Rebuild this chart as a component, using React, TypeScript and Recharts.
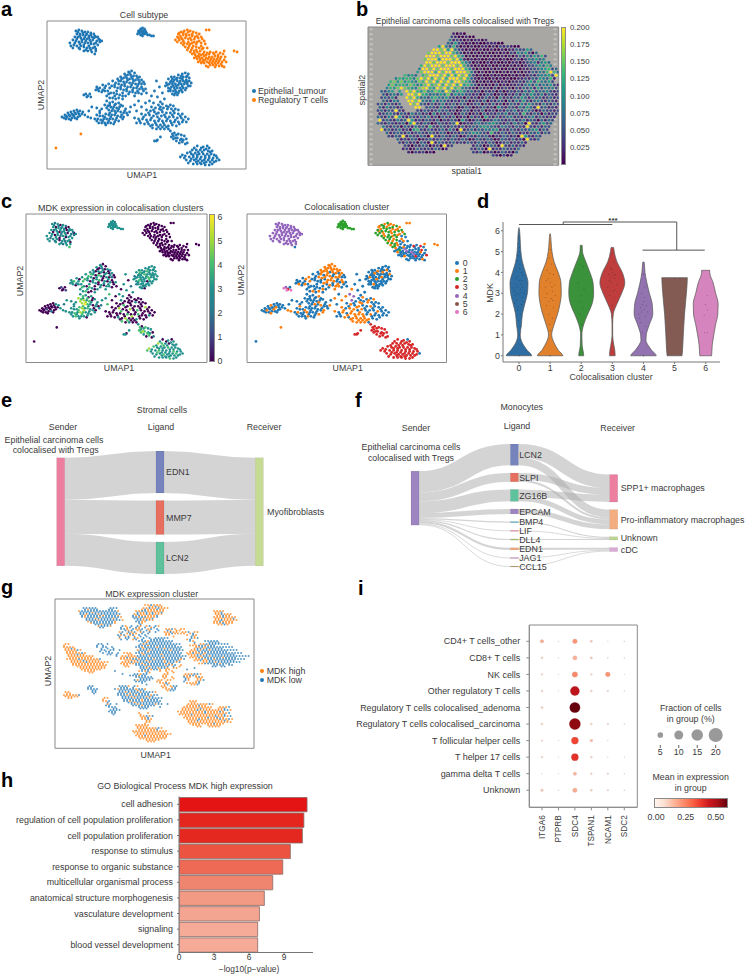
import React from "react";
import {
  Area,
  Bar,
  BarChart,
  Cell,
  ComposedChart,
  ReferenceArea,
  ReferenceLine,
  Sankey,
  Scatter,
  ScatterChart,
  XAxis,
  YAxis,
} from "recharts";

const FONT = '"Liberation Sans", Arial, sans-serif';
const INK = "#3a3a3a";
const FRAME = "#8a8a8a";

const TAB = ["#1f77b4", "#ff7f0e", "#2ca02c", "#d62728", "#9467bd", "#8c564b", "#e377c2"];
const MUTED = ["#2e6ea3", "#e1812c", "#3a923a", "#c03d3e", "#9372b2", "#845b53", "#d684bd"];
const MDK_COLORS = ["#440154", "#414487", "#2a788e", "#21918c", "#44bf70", "#a5db36", "#fde725"];
const SPOT_COLORS = ["#440154", "#482878", "#3e4989", "#31688e", "#26828e", "#1f9e89", "#35b779", "#6ece58", "#b5de2b", "#fde725"];
const REDS = ["#fff5f0", "#fee0d2", "#fcbba1", "#fc9272", "#fb6a4a", "#ef3b2c", "#cb181d", "#a50f15", "#67000d"];

// umap cells: [x, y, colocalisation cluster, MDK level]
const blobTopLeft = [[29,10,4,3],[32,9,4,2],[35,10,4,3],[38,11,4,0],[41,11,4,3],[44,12,4,2],[47,13,4,0],[30,13,4,3],[33,13,4,0],[36,14,4,3],[39,14,4,2],[42,15,4,3],[45,16,4,0],[49,16,4,3],[52,18,4,2],[55,20,4,3],[28,16,4,3],[31,16,4,2],[34,17,4,3],[37,18,4,0],[40,18,4,3],[43,19,4,3],[46,19,4,0],[50,20,4,2],[26,19,4,3],[29,20,4,3],[32,21,4,0],[35,21,4,3],[38,22,4,2],[41,22,4,3],[44,23,4,0],[47,23,4,3],[51,24,4,3],[23,22,4,3],[24,25,4,3],[27,24,4,2],[30,25,4,3],[34,25,4,3],[37,26,4,0],[40,27,4,3],[43,27,4,2],[46,27,4,3],[49,28,4,0],[33,28,4,3],[37,30,4,3],[41,30,4,2],[45,31,4,3],[48,33,0,4],[49,30,4,3],[53,21,4,2],
  [31,11,4,3],[36,12,4,2],[40,13,4,3],[44,14,4,0],[48,15,4,3],[51,16,4,3],[33,15,4,3],[38,16,4,3],[42,17,4,3],[47,17,4,2],[53,19,4,0],[30,18,4,0],[35,19,4,3],[39,20,4,2],[44,21,4,3],[49,22,4,3],[28,22,4,3],[33,23,4,3],[37,24,4,0],[42,25,4,3],[48,26,4,3],[26,27,4,3],[32,27,4,2],[39,29,4,3],[44,29,4,3]];
const blobTopMid = [[92,10,2,3],[94,8,2,3],[96,7,2,3],[98,8,2,2],[93,12,2,3],[95,11,2,3],[97,10,2,3],[99,10,2,3],[91,13,2,3],[94,14,2,3],[96,13,2,3],[98,13,2,3],[100,12,2,3],[101,14,2,3],[103,14,2,3],[105,15,2,3],[107,15,2,3],[95,9,2,3],[97,12,2,3],[93,10,2,3],[99,12,2,3],[96,15,2,3],[92,11,2,3]];
const tregUpper = [[132,13,1,0],[135,11,2,0],[138,10,1,0],[141,9,2,0],[144,10,1,0],[147,11,1,0],[150,12,2,0],[153,13,1,0],[131,16,2,0],[134,15,1,0],[137,14,2,0],[140,13,1,0],[143,14,2,0],[146,15,1,0],[149,16,1,0],[152,17,2,0],[156,18,1,0],[129,19,2,0],[133,19,2,0],[136,18,1,0],[139,17,2,0],[142,18,2,0],[145,19,1,0],[148,21,2,0],[151,21,1,0],[155,22,0,0],[159,23,0,0],[135,22,2,0],[138,22,1,0],[141,23,2,0],[144,23,2,0],[147,25,1,0],[150,26,2,0],[153,27,0,0],[157,27,1,0],[161,27,0,0],[139,26,2,0],[142,27,1,0],[145,29,2,0],[148,30,2,0],[151,31,1,0],[154,30,0,0],[158,31,0,0],[160,9,1,0],[163,9,1,0],[158,20,2,0],
  [133,12,1,0],[137,12,2,0],[142,11,1,0],[146,13,2,0],[151,15,1,0],[155,16,2,0],[132,17,1,0],[135,17,2,0],[140,15,2,0],[144,17,1,0],[148,18,2,0],[153,20,1,0],[131,21,2,0],[137,20,1,0],[142,21,2,0],[146,22,1,0],[150,23,2,0],[155,25,1,0],[137,24,2,0],[143,25,2,0],[146,27,1,0],[150,29,1,0],[156,28,0,0],[141,29,2,0],[144,31,1,0],[148,32,2,0]];
const tregLower = [[146,33,2,0],[149,34,1,0],[152,35,0,0],[155,34,0,0],[158,35,4,0],[161,32,0,0],[164,31,0,0],[167,32,3,0],[170,31,0,0],[174,32,3,0],[178,30,1,0],[148,37,0,0],[151,38,1,0],[154,38,0,0],[157,39,0,0],[160,37,4,0],[163,36,0,0],[166,36,0,0],[169,35,0,0],[172,36,0,0],[175,36,3,0],[179,36,0,0],[152,41,0,0],[155,42,0,0],[158,42,1,0],[161,41,0,0],[164,40,0,0],[167,40,4,0],[170,40,0,0],[173,40,0,0],[176,41,0,0],[180,41,3,0],[160,45,0,0],[164,44,0,0],[167,44,0,0],[170,44,0,0],[173,45,0,0],[176,45,1,0],[178,46,0,0],[188,30,1,0],[191,31,1,0],
  [153,33,0,0],[157,33,1,0],[160,34,0,0],[163,33,0,0],[168,33,0,0],[172,34,0,0],[177,33,0,0],[150,36,0,0],[153,36,2,0],[156,37,0,0],[159,39,0,0],[162,38,0,0],[165,38,4,0],[168,38,0,0],[171,38,0,0],[174,38,1,0],[178,39,0,0],[154,40,0,0],[157,41,0,0],[163,42,0,0],[166,42,0,0],[169,42,3,0],[172,42,0,0],[175,43,0,0],[162,46,0,0],[169,46,0,0]];
const tregStray = [[34,113,1,0],[9,127,0,0]];
const blobArc = [[82,51,1,3],[85,50,1,0],[88,52,1,0],[78,53,1,3],[81,54,1,0],[84,54,1,2],[87,55,1,0],[90,55,1,3],[93,56,1,2],[74,56,1,3],[77,57,1,0],[80,57,1,3],[83,58,0,3],[86,58,1,0],[89,59,1,3],[92,59,0,0],[95,59,1,3],[71,58,0,3],[74,60,1,3],[77,61,0,0],[80,61,1,4],[83,62,1,3],[86,62,0,0],[89,63,1,3],[92,63,1,0],[95,63,0,2],[98,63,0,0],[66,60,0,3],[69,62,0,4],[72,63,1,3],[75,64,1,0],[78,65,0,3],[81,66,1,4],[84,66,1,0],[87,67,1,3],[90,67,0,0],[93,68,0,3],[96,68,1,0],[99,68,0,3],[100,72,0,0],[56,64,0,3],[59,65,1,0],[62,63,1,3],[65,65,0,4],[68,66,0,3],[71,67,0,0],[74,68,0,3],[77,69,1,3],[80,70,0,0],[83,71,1,3],[86,71,0,0],[89,72,1,3],[92,72,1,3],[95,73,0,0],[50,66,0,3],[53,67,0,4],[49,69,0,3],[52,70,1,3],[55,71,0,0],[58,70,1,3],[61,70,0,3],[64,72,0,3],[67,72,0,0],[70,73,0,4],[73,74,0,3],[76,75,1,0],[79,75,0,3],[60,75,0,3],[63,77,0,3],[66,77,1,4],[69,78,0,0],
  [83,52,1,3],[79,55,1,0],[85,56,1,3],[91,57,1,0],[75,58,1,3],[81,59,1,0],[87,60,0,3],[93,61,1,3],[97,61,0,0],[72,60,0,4],[78,63,1,3],[85,64,1,0],[91,65,0,3],[95,66,1,0],[68,64,0,3],[74,66,0,3],[80,68,1,0],[86,69,0,3],[91,70,1,3],[97,70,0,0],[58,67,0,3],[63,67,1,4],[70,70,0,3],[76,72,0,0],[82,73,0,3],[88,75,1,3],[51,68,0,3],[56,69,0,3],[62,73,0,4],[68,75,0,3],[72,77,1,0],[76,78,0,3]];
const blobRight = [[132,54,0,3],[136,53,0,3],[139,52,0,3],[142,53,0,3],[125,56,0,3],[128,56,0,3],[131,57,1,3],[134,57,0,4],[137,56,0,3],[140,56,1,3],[143,57,0,3],[122,58,0,3],[125,60,0,3],[128,59,1,3],[131,60,0,4],[134,60,0,3],[137,60,0,3],[140,59,0,3],[143,60,1,3],[145,62,0,3],[120,62,0,2],[123,63,1,3],[126,63,0,3],[129,63,0,3],[132,64,0,3],[135,63,1,4],[138,63,0,3],[141,63,0,3],[144,65,0,3],[119,65,0,3],[122,67,0,3],[125,66,0,4],[128,67,0,3],[131,67,0,3],[134,67,0,0],[137,67,0,3],[140,67,0,3],[124,70,0,3],[127,70,1,3],[130,71,0,3],[133,70,0,3],[136,71,0,3],[128,74,0,3],[131,74,0,0],[126,73,0,3],
  [135,55,0,3],[141,55,0,3],[126,58,0,4],[130,58,0,3],[136,58,1,3],[141,61,0,3],[124,61,0,3],[127,61,0,3],[133,62,0,3],[139,61,0,3],[121,64,0,3],[127,65,0,3],[130,65,1,3],[136,65,0,4],[142,65,0,3],[124,68,0,3],[129,69,0,3],[135,69,0,3],[139,69,0,3],[122,70,0,2],[132,72,0,3],[129,72,0,3]];
const blobSmall = [[37,74,6,0],[39,73,4,1],[41,75,3,0],[43,73,0,0],[40,76,6,0],[44,76,6,1]];
const blobLeft = [[15,96,0,0],[18,94,0,0],[21,92,0,0],[24,91,1,0],[27,90,0,0],[30,89,0,0],[33,90,0,3],[17,97,0,0],[20,96,1,0],[23,95,0,1],[26,94,0,0],[29,93,1,0],[32,93,0,0],[35,93,0,0],[22,98,0,0],[25,97,0,0],[28,97,0,2],[31,96,0,0],[38,94,0,3],[41,96,1,3],[44,97,1,3],[24,99,1,0],[19,95,0,0],[22,94,0,0],[25,93,0,0],[28,92,0,0],[31,91,0,0],[19,98,0,0],[27,95,1,0],[33,95,0,0],[36,91,0,3],[30,98,0,0]];
const blobMidLow = [[60,80,0,3],[63,82,0,4],[66,81,0,3],[69,83,0,0],[72,82,1,3],[58,84,0,5],[61,85,0,4],[64,86,0,5],[67,86,0,3],[70,87,0,4],[73,86,0,0],[76,85,0,3],[79,88,0,3],[62,89,0,5],[65,90,0,6],[68,90,1,4],[71,90,0,3],[74,91,1,0],[77,92,0,3],[80,92,0,0],[83,91,1,2],[50,94,0,3],[53,92,1,3],[56,95,0,3],[59,93,0,4],[62,94,0,5],[65,94,0,3],[68,94,0,4],[71,95,0,3],[74,96,0,3],[77,96,1,0],[48,98,0,3],[51,98,1,3],[54,99,0,4],[57,98,0,3],[60,98,1,5],[63,98,0,4],[66,98,0,3],[69,99,0,3],[72,100,1,3],[52,102,0,3],[55,102,0,4],[58,102,0,3],[61,102,1,3],[64,102,0,3],[67,103,0,0],[45,86,0,3],[42,90,0,2],[50,87,0,3],[55,88,0,3],
  [63,84,0,3],[68,84,0,4],[74,84,0,0],[60,87,0,5],[66,88,0,5],[72,88,1,3],[78,90,0,3],[63,92,0,4],[69,92,0,3],[75,94,0,0],[81,94,0,3],[53,95,0,3],[58,96,1,4],[64,96,0,5],[70,97,0,3],[76,98,1,3],[50,100,0,3],[56,100,0,3],[62,100,0,4],[68,101,0,3],[59,104,0,3],[53,90,0,3]];
const blobCentre = [[112,84,0,0],[116,83,1,0],[120,85,0,0],[124,84,0,0],[127,85,1,0],[105,86,4,3],[109,87,0,0],[113,88,1,0],[117,87,0,0],[121,88,1,3],[125,88,0,0],[129,88,0,0],[132,89,0,0],[100,89,0,0],[104,90,1,0],[108,91,0,4],[112,92,1,0],[116,91,0,0],[120,92,0,0],[124,92,1,0],[128,92,0,0],[132,93,0,5],[136,93,0,0],[95,93,1,0],[99,94,0,0],[103,94,1,5],[107,95,1,0],[111,96,0,0],[115,95,1,5],[119,96,0,0],[123,96,0,4],[127,96,0,0],[131,97,1,0],[135,97,0,0],[139,96,0,0],[142,98,0,0],[88,97,1,0],[92,98,0,0],[96,98,1,0],[100,99,0,0],[104,99,1,0],[108,100,1,0],[112,100,1,4],[116,100,1,0],[120,100,0,0],[124,100,1,4],[128,101,0,0],[132,101,0,0],[136,101,0,3],[140,101,0,0],[90,102,0,0],[94,102,0,0],[98,103,1,0],[102,103,0,3],[106,104,1,0],[110,104,1,5],[114,104,1,0],[118,104,1,0],[122,105,1,3],[126,104,0,0],[130,105,0,0],[106,107,1,4],[110,108,1,0],[114,108,1,3],[118,108,1,0],[122,108,0,0],
  [114,86,0,0],[122,86,1,0],[107,89,0,0],[115,89,1,0],[127,90,0,0],[102,92,0,0],[110,93,1,0],[118,94,0,0],[126,94,0,0],[134,95,0,0],[97,96,1,0],[105,97,1,4],[113,98,1,0],[121,98,0,0],[129,99,0,0],[137,99,0,0],[93,100,0,0],[101,101,1,0],[109,102,1,0],[117,102,1,5],[125,102,0,0],[133,103,0,0],[104,105,1,0],[112,106,1,4],[120,106,1,0],[116,106,1,0]];
const blobSparse = [[110,60,0,3],[113,66,0,0],[108,70,0,3],[116,72,0,2],[105,75,1,0],[111,76,0,3],[118,78,0,3],[103,80,4,3],[99,82,1,0],[107,82,4,3],[114,81,0,0],[92,80,0,4],[88,84,1,3],[95,86,1,0],[84,86,0,3],[90,90,0,4]];
const blobTail = [[124,110,3,3],[126,113,3,4],[125,116,3,4],[128,112,3,0],[130,114,3,3],[132,113,3,4],[135,114,3,3],[138,115,3,3],[140,118,3,0],[127,118,3,4],[130,120,3,3],[133,122,3,0],[136,121,3,4],[139,123,3,0],[129,117,3,5],[141,122,3,2],[108,120,3,3],[110,120,3,3],[111,119,3,0],[114,116,3,3],[127,115,3,3],[131,117,3,4],[135,118,3,3],[134,119,3,4],[137,119,3,3]];
const blobBottom = [[151,125,3,0],[157,126,3,3],[161,125,0,0],[163,127,3,3],[146,129,3,5],[150,129,3,4],[154,129,3,3],[158,129,3,0],[162,130,3,3],[166,130,3,3],[141,132,3,4],[145,133,3,3],[149,132,3,3],[153,133,3,3],[157,133,3,4],[161,133,3,3],[165,133,3,3],[168,134,3,3],[136,134,3,5],[139,135,3,3],[143,136,3,3],[147,136,3,4],[151,136,3,3],[155,136,3,3],[159,137,3,3],[163,137,3,4],[167,137,3,3],[171,137,3,3],[173,139,0,3],[140,139,3,3],[144,140,3,3],[148,139,3,3],[152,140,3,4],[156,140,3,3],[160,141,3,3],[164,141,3,3],[168,141,3,3],[147,143,3,3],[151,143,3,3],[155,143,3,3],[159,144,3,4],[163,144,3,3],[134,136,3,4],
  [148,127,3,3],[155,127,3,0],[160,128,3,3],[144,131,3,3],[152,131,3,4],[156,131,3,3],[164,131,3,3],[147,134,3,3],[151,134,3,3],[159,135,3,3],[163,135,3,3],[170,135,3,3],[138,137,3,3],[145,138,3,4],[150,138,3,3],[154,138,3,3],[158,139,3,3],[162,139,3,3],[166,139,3,4],[170,140,3,3],[142,142,3,3],[150,141,3,3],[154,142,3,3],[158,142,3,3],[166,143,3,3]];

const epithelial = [...blobTopLeft, ...blobTopMid, ...blobArc, ...blobRight, ...blobSmall, ...blobLeft, ...blobMidLow, ...blobCentre, ...blobSparse, ...blobTail, ...blobBottom];
const tregs = [...tregUpper, ...tregLower, ...tregStray];
const allCells = [...epithelial, ...tregs].map(([x, y, cluster, mdk]) => ({ x, y, cluster, mdk }));

const CLUSTERS = ["0", "1", "2", "3", "4", "5", "6"];

// spots of the visium slide, per row: [first column, level of each spot], "." is no tissue
const SPATIAL_ROWS: [number, string][] = [
  [21, "1010"],
  [20, "2100100"],
  [20, "41210101101"],
  [19, "3252101010011100"],
  [17, "59426201010011010212100"],
  [15, "9979594210100100100101132253"],
  [14, "7999799642010100100101021435203"],
  [13, "9997999796401001001001010131425362"],
  [13, "7999599979510101001010100120243534"],
  [13, "99799979996420100101001011012341453"],
  [12, "6979997999796310100100100101012245364"],
  [11, "499797999799964101001010010101122345623"],
  [11, "5799969799699974101001001010101132436963"],
  [7, "6453.6799979696979520100101000101012134452962"],
  [5, "465664797969796999796310100101010011213254361"],
  [3, "6757565476979697969976420101010110112135264352"],
  [3, "575665764579679697969564201010201011213425243521"],
  [2, "4657976547896597969674321021102012102132415243423"],
  [1, "3245.5.97965745764973564231202120201213142523342123"],
  [1, "313425.9979653435472534221201320120213142532413212"],
  [1, "23241..9796342564353212031201312041213253142312312"],
  [1, "32143..997943252432121320121302132031425213421321"],
  [0, "2314213..979321312412313201230213120132142532142132"],
  [0, "3142312...99.2321421320132012312052132142531923121"],
  [0, "23132921...2132124231201320213012021324125320132212"],
  [0, "12342132142312041213201320120312132412316213203122"],
  [0, "32142952132132412032130120312052131234121234132121"],
  [0, "9232142395121321302132052013201243212312413203132"],
  [0, "3213212305921320132123901213423453213142309213523"],
  [1, "42132032142316213213213123245432143213219213132"],
  [1, "92312412056213212314209123132434512132132345132"],
  [2, "3123213123213213201213235432162132132121324132"],
  [3, "2132913213209213213201321323102132120952132"],
  [5, "3121320123123213213201321320132131209213"],
  [6, "213120320913212312132132132012312131"],
  [7, "21021320120912.....132013209213121"],
  [7, "1201321213201......21320912132213"],
  [8, "10212010..........2130120132103"],
  [32, "210201"],
];

const spotsByLevel = SPOT_COLORS.map(() => [] as { x: number; y: number }[]);
SPATIAL_ROWS.forEach(([start, levels], row) => {
  levels.split("").forEach((ch, i) => {
    if (ch !== ".") spotsByLevel[Number(ch)].push({ x: start + i + (row % 2 ? 0.5 : 0), y: row });
  });
});

// violin outlines: [MDK, half width]
const VIOLINS: number[][][] = [
  [[0,.41],[.25,.27],[.5,.15],[.75,.07],[1,.04],[1.5,.08],[2,.11],[2.5,.19],[3,.27],[3.5,.29],[4,.21],[4.5,.11],[5,.06],[5.5,.04],[6,.02],[6.15,0]],
  [[0,.41],[.25,.27],[.5,.17],[.75,.09],[1,.05],[1.5,.13],[2,.24],[2.5,.32],[3,.36],[3.5,.35],[4,.26],[4.5,.13],[5,.06],[5.5,.03],[5.85,.01]],
  [[0,.08],[.5,.03],[1,.02],[1.5,.08],[2,.21],[2.5,.35],[3,.4],[3.5,.38],[4,.28],[4.5,.15],[5,.04],[5.3,.03]],
  [[0,.09],[.25,.08],[.5,.05],[1,.01],[1.5,.01],[2,.03],[2.5,.15],[3,.3],[3.5,.4],[4,.32],[4.5,.15],[5,.06],[5.2,.04]],
  [[0,.41],[.25,.27],[.5,.15],[.75,.08],[1,.09],[1.5,.19],[2,.3],[2.5,.28],[3,.19],[3.5,.11],[4,.05],[4.5,.02]],
  [[0,.24],[1,.28],[2,.32],[3,.38],[3.75,.41]],
  [[0,.19],[.5,.21],[1,.26],[1.5,.32],[2,.39],[2.5,.4],[3,.32],[3.5,.24],[4,.13],[4.1,.13]],
];
const violinRows = VIOLINS.map((outline, i) => {
  const rows = outline.map(([y, w]) => ({ y, r: [i - w, i + w] }));
  return [{ y: outline[0][0], r: [i, i] }, ...rows, { y: outline[outline.length - 1][0], r: [i, i] }];
});

// jittered cells inside the violins
const JITTER = [
  [[-.08,3],[.05,3.2],[-.12,2.9],[.1,2.8],[0,3.6],[-.05,3.8],[.08,4],[-.1,4.1],[.03,4.4],[-.03,4.8],[.02,5.2],[0,5.7],[-.14,2.5],[.13,2.6],[-.04,2.2],[.06,2],[-.02,1.7],[.04,1.4],[.01,1],[-.09,3.4],[.12,3.3],[-.15,3.1],[.16,3],[.09,3.6],[-.02,2.95],[.04,3.05],[-.17,3.25],[.18,3.15],[-.07,2.65],[.08,2.45],[-.11,3.7],[.13,3.85],[.02,4.2],[-.06,4.55],[.01,5],[-.01,0],[.02,0],[-.03,2.35],[.07,3.45],[-.04,3.3]],
  [[-.1,3],[.08,3.1],[-.16,2.8],[.17,2.9],[0,3.5],[-.06,3.7],[.1,3.9],[-.09,4.1],[.04,4.4],[-.02,4.7],[.01,5.1],[-.12,2.4],[.11,2.3],[-.04,2],[.07,1.8],[-.03,1.5],[.02,1.2],[.14,3.4],[-.14,3.3],[.03,2.75],[-.05,2.6],[.09,2.65],[-.13,3.6],[.06,3.3],[-.01,3.95],[.02,0],[-.02,0]],
  [[-.05,4.4],[.06,4.3],[-.1,3.5],[.09,3.2],[0,2.9],[-.07,2.6],[.05,2.3],[-.03,2],[.01,1.5],[0,1]],
  [[-.1,3.6],[.08,3.7],[-.14,3.3],[.13,3.4],[0,4],[-.06,4.2],[.05,4.5],[-.02,4.9],[-.08,2.9],[.06,2.8],[0,2.4],[.1,3.9],[-.11,3.9],[.02,3.1],[-.03,3.5],[.04,3.85],[-.05,3.75],[.07,3.15],[-.02,4.15]],
  [[-.1,2.3],[.09,2.4],[-.15,2],[.14,2.1],[0,2.6],[-.05,3],[.05,3.3],[-.01,3.9],[-.08,1.6],[.07,1.4],[-.02,1.1],[.03,2.8],[-.12,1.8],[.02,2.2],[-.04,2.45],[.06,1.9],[-.07,2.1],[.01,0],[-.01,0]],
  [[0,3.72]],
  [[.05,2.9],[0,2.45],[-.05,1.95],[.07,2.2],[-.04,1.1],[.05,1.1]],
];
const jitterCells = JITTER.flatMap((pts, i) => pts.map(([dx, y]) => ({ x: i + dx, y })));

// sankey e
const E_LIGANDS = ["EDN1", "MMP7", "LCN2"];
const E_VALUES = [42, 34, 32];
const E_COLORS = ["#ec7fa0", "#7683bd", "#e76f5f", "#5fc29c", "#c5da93"];

// sankey f
const F_LIGANDS = ["LCN2", "SLPI", "ZG16B", "EPCAM", "BMP4", "LIF", "DLL4", "EDN1", "JAG1", "CCL15"];
const F_RECEIVERS = ["SPP1+ macrophages", "Pro-inflammatory macrophages", "Unknown", "cDC"];
const F_FLOWS = [
  [14, 8, 0, 0],
  [7, 2, 0, 0],
  [7.3, 5, 0, 0],
  [0, 5, 0, 0],
  [0, 0, 1.2, 0],
  [0, 0, 0.9, 0],
  [0, 0, 1.2, 0],
  [0, 0, 0, 2.2],
  [0, 0, 0, 0.9],
  [0, 0, 0, 0.9],
];
const F_COLORS = ["#9e84c0", "#7683bd", "#e76f5f", "#5fc29c", "#9e84c0", "#5fb6c9", "#e6789c", "#a5c46b", "#f0a77a", "#c784b8", "#b89a5f", "#ec7fa0", "#f4ad7f", "#bcd692", "#dba9d4"];

const eData = {
  nodes: [{ name: "" }, ...E_LIGANDS.map((name) => ({ name })), { name: "Myofibroblasts" }],
  links: [
    ...E_VALUES.map((value, i) => ({ source: 0, target: i + 1, value })),
    ...E_VALUES.map((value, i) => ({ source: i + 1, target: 4, value })),
  ],
};
const fData = {
  nodes: [{ name: "" }, ...F_LIGANDS.map((name) => ({ name })), ...F_RECEIVERS.map((name) => ({ name }))],
  links: [
    ...F_FLOWS.map((row, i) => ({ source: 0, target: i + 1, value: row.reduce((a, b) => a + b, 0) })),
    ...F_FLOWS.flatMap((row, i) =>
      row.flatMap((value, j) => (value > 0 ? [{ source: i + 1, target: 11 + j, value }] : [])),
    ),
  ],
};

// umap g, one character per small patch of cells: o = MDK high, b = MDK low
const MDK_UMAP = [
  "",
  "",
  "..............................oobooo",
  ".........bbbbb....bbb........ooboobooo",
  "........obbbbbbbbbbbbo.....oobboooooo................oooo",
  "........bbobbbobbbbbbb....oboobobooo.................oobooo",
  ".........bobbbbobbbbbbo...bbobbooob..................oooboooo",
  "..........bbbbobbbbbbbo....bboboo....................oobooooo",
  "............obbbbbbbo.......bo.......................ooobooo",
  "..............obbbo...bo.b.bo.ob.bo",
  "......................bbo.boob.ob.b..oobo.oo",
  ".....................ob.bob.ob.b.b..ooboo.oob.oo",
  ".....................bob.ob.b.b......oo.....o.bo",
  ".....................o.bb.bo.b.b.bbbbb.......bob",
  "............................bbbobbbbbbbb.....bo...bbbbb",
  "...oo.........bb.b..........bobbbbbbbbbbbb....o.oobbbbbbbb",
  "...oooo.......b.bb.b.......bbobbbbobbbbbbbb....oobobbbbbbbbb",
  "...oooobo......bb.bb.b.....obbbobbbbbbobbbb..oobobbobbbbbbbbb",
  "....ooooobo.....b.bb.b.ooo.bbobbbbbbbbbbbbb.ooboobobbbbbbbbbbbb",
  "....ooooooooo.......b.ooooobbbbobbbbbbbbbbbb.oobobbobbbbbbbbbbbbb",
  "....ooooboooooob......oooobbobbbbobbbbbbbbob...oobobbobbbbbbbbbb",
  ".....ooooobooooooo....oooboobbbobbbbobbbob.......oobbobbbbbbbb",
  "......oooooooooooo.....oo..bbbobbbbbbobob.o..........bbbb.bb",
  "........ooooooooo...........bbobbbobbo.oo.....b",
  "..........oooo......b.......obob...o.o.o",
  "......................b...bbobb.....oo.....ooobbo",
  "...........................bbbbbb...oo.o...boo.obo",
  "..........................bobbbb..oo.oo....bo..oob",
  ".............................b.....oobo.....oooob",
  "...........bb........bbbo.bo.......oo.obb",
  "...........bbbb.....bobbbbbobbo......oobb",
  "...oo.......bb.......bbobbbbobbbbo",
  "...ooooob............bbbobbobbbbobb",
  "....oo..........oo....bbbbobbbbobbbb",
  "................oob....bbobbbobbbbbb.........ooo",
  ".................ob.b....bbobbbbbobb.b......ooooooobo",
  "..................bbb.......bbbb...b.......oooooooooo..ooob",
  "..................bbbb....................oooooboooooooobbo",
  "...................bb.......o..o..........oooooooobooooooob",
  "............................oobob..........ooooooooooboobob",
  ".............................oobo...........oooobooooooboobo",
  "..............................oo............ooooooooooooooo",
  "...........................ooooo..............ooo..ooooo",
  "...........................ooooooobo",
  "..........................oooooooooooo",
  "...........................oooooooooooo",
  "............................oooooooooo",
  "..............................ooooo",
];
// same picture, the patches that fall between those of MDK_UMAP
const MDK_UMAP_BETWEEN = [
  "",
  "",
  "...............................ooboo",
  "..........bobbb...bb.........oboooboo",
  "........bbbbobbbbbbbb......booboboob.................oob",
  ".........bobbbbbobbbbo....bobooooob...................ooboo",
  "..........bbbobbbbbob.....bbbooob....................oooooob",
  "...........obbbbbbbbo......bboo......................ooboooo",
  ".............bbobbb.........b.........................oobo",
  "...............bb.....b.ob.bo.b.ob",
  ".......................bob.ob.bo..b..bo.oo",
  "......................b.oboo.b.b.....ooboooo.ob",
  ".....................b.ob.o.b.b........o.....bo",
  "......................b.b.ob.b..bbbbb.......ob",
  ".............................bobbbbbbbb.......b....bbbb",
  "...o..........b.b...........bbbobbbbbbbbb....ooobbbobb",
  "...oobo........b.b.b........bobbbbbbobbbbb....obbobbbbbb",
  "....oooo.......b.bb.........bbbobbbbbbbbbb...ooobbbbbbbbbb",
  "....oooboo.......bb.b...oo..bobbbbbobbbbbb..ooobbobbbbbbbbbb",
  ".....oooooooo.........oobooobbbbbbbbobbbbbb..ooobobbbbbbobbbb",
  ".....oooobooooo........oooobbbobbbbbobbbbo....ooboobbbbbbbbb",
  "......ooooooooooo.....ooooobbobbbbbbbbob........oobbbbbobbb",
  ".......oooooooooo......oo...bbbobbbbbb.b.o..........bb.bb",
  ".........ooooooo.............bbbobbo.oo.....b",
  "...........oo.................bo.....o.o",
  ".........................bbbobb.....oo.....oobbo",
  "............................bbbbb...o..o...bo..oo",
  "...........................bbbb...oo.o.....b...ob",
  "..............................b.....ob.......oob",
  "...........bb.........bbb.b.........oo.ob",
  "............bb.......bbbbbbobb.......obb",
  "....oo.......b.......bbbbobbbbbb",
  "...ooooo..............bbbobbbbobb",
  "................o......bbbbbbobbbbb",
  ".................b......bbobbbbbbbb..........oo",
  ".................bb.......bbbobbbb..........ooooboo",
  "...................bb.......bbb...........oooooobooo..oob",
  "..................bbb....................oooooooooboooobo",
  "...................b........o............ooooboooooooooob",
  ".............................oob...........oooooooobooboo",
  "..............................oo............oooboooooooobo",
  "..............................o..............oooooooobooo",
  "...........................oooo................oo..oooo",
  "............................oooooob",
  "..........................ooooooooooo",
  "...........................ooobooooooo",
  "............................ooooooooo",
  "...............................ooo",
];
const mdkCells = { o: [] as { x: number; y: number }[], b: [] as { x: number; y: number }[] };
MDK_UMAP.forEach((line, row) => {
  line.split("").forEach((ch, col) => {
    if (ch === "o" || ch === "b") mdkCells[ch].push({ x: col + (row % 2 ? 0.5 : 0), y: row });
  });
});
MDK_UMAP_BETWEEN.forEach((line, row) => {
  line.split("").forEach((ch, col) => {
    if (ch === "o" || ch === "b") mdkCells[ch].push({ x: col + (row % 2 ? 0 : 0.5), y: row + 0.5 });
  });
});

// bars h
const GO_TERMS = ["cell adhesion", "regulation of cell population proliferation", "cell population proliferation", "response to stimulus", "response to organic substance", "multicellular organismal process", "anatomical structure morphogenesis", "vasculature development", "signaling", "blood vessel development"];
const GO_VALUES = [10.97, 10.7, 10.57, 9.54, 8.89, 8.03, 7.31, 6.89, 6.74, 6.74];
const GO_COLORS = ["#e41414", "#e5261f", "#e5281f", "#ec5340", "#ef6a55", "#f0856f", "#f39a84", "#f4a592", "#f5ab98", "#f5ab98"];
const goRows = GO_TERMS.map((term, i) => ({ term, value: GO_VALUES[i] }));

// dotplot i
const GENES = ["ITGA6", "PTPRB", "SDC4", "TSPAN1", "NCAM1", "SDC2"];
const CELL_TYPES = ["CD4+ T cells_other", "CD8+ T cells", "NK cells", "Other regulatory T cells", "Regulatory T cells colocalised_adenoma", "Regulatory T cells colocalised_carcinoma", "T follicular helper cells", "T helper 17 cells", "gamma delta T cells", "Unknown"];
const FRACTION = [
  [2.4, 0.3, 3.8, 1.2, 0.3, 0.4],
  [1.2, 0.3, 3.4, 1.2, 0.4, 0.4],
  [0.9, 0.3, 4.8, 0.9, 4, 0.3],
  [1.1, 0.3, 10.8, 1, 0.8, 0.4],
  [1.2, 0, 13, 0, 0, 0],
  [1.1, 0, 14.5, 1, 0.8, 0.4],
  [0.8, 0.3, 7.2, 1.7, 0.3, 0],
  [0.9, 0.3, 7.2, 1, 0.3, 0.3],
  [0.3, 0.3, 2.4, 0.9, 0.8, 0.4],
  [1.5, 0.3, 3.4, 1.1, 0.8, 0.4],
];
const MEAN_EXPR = [
  [0.18, 0.1, 0.22, 0.14, 0.1, 0.1],
  [0.1, 0.1, 0.17, 0.14, 0.1, 0.1],
  [0.1, 0.1, 0.24, 0.1, 0.22, 0.1],
  [0.1, 0.1, 0.48, 0.1, 0.1, 0.1],
  [0.12, 0, 0.6, 0, 0, 0],
  [0.1, 0, 0.55, 0.1, 0.1, 0.1],
  [0.1, 0.1, 0.36, 0.15, 0.1, 0],
  [0.1, 0.1, 0.4, 0.1, 0.1, 0.1],
  [0.1, 0.1, 0.16, 0.1, 0.1, 0.1],
  [0.13, 0.1, 0.18, 0.12, 0.1, 0.1],
];
const dotCells = CELL_TYPES.flatMap((_, row) =>
  GENES.map((_g, col) => ({ x: col, y: row, frac: FRACTION[row][col], mean: MEAN_EXPR[row][col] })),
);
const SIZE_LEGEND = [5, 10, 15, 20];

const mix = (a: string, b: string, t: number) => {
  const ch = (s: string, i: number) => parseInt(s.slice(1 + i * 2, 3 + i * 2), 16);
  return `rgb(${[0, 1, 2].map((i) => Math.round(ch(a, i) + (ch(b, i) - ch(a, i)) * t)).join(",")})`;
};
const redsColor = (mean: number) => {
  const p = Math.min(mean / 0.6, 1) * (REDS.length - 1);
  const i = Math.min(Math.floor(p), REDS.length - 2);
  return mix(REDS[i], REDS[i + 1], p - i);
};
const sizeRadius = (frac: number) => 7 * Math.pow(frac / 20, 0.65);

const dot = (r: number, opacity = 1) => (props: any) => (
  <circle cx={props.cx} cy={props.cy} r={r} fill={props.fill} fillOpacity={opacity} />
);

// axis labels drawn by hand, recharts would wrap the long ones
const labelTick = (labels: string[], size: number) => (p: any) => (
  <text x={p.x} y={p.y} dy="0.35em" textAnchor="end" fontSize={size} fill={INK}>
    {labels[p.index]}
  </text>
);
const geneTick = (p: any) => (
  <text x={p.x} y={p.y + 3} dy="0.35em" textAnchor="end" fontSize={8.2} fill={INK} transform={`rotate(-90 ${p.x} ${p.y + 3})`}>
    {GENES[p.index]}
  </text>
);

function Txt({ x, y, size = 8.8, anchor = "middle", rotate = false, weight, color = INK, children }: any) {
  const tx = anchor === "middle" ? "-50%" : anchor === "end" ? "-100%" : "0";
  return (
    <div
      style={{
        position: "absolute",
        left: x,
        top: y,
        fontSize: size,
        fontWeight: weight,
        color,
        lineHeight: 1,
        whiteSpace: "nowrap",
        transform: `translate(${tx}, -50%)${rotate ? " rotate(-90deg)" : ""}`,
      }}
    >
      {children}
    </div>
  );
}

const Letter = ({ x, y, children }: any) => (
  <div style={{ position: "absolute", left: x, top: y - 15, fontSize: 20, fontWeight: 700, color: "#000", lineHeight: "16px" }}>
    {children}
  </div>
);

const Swatch = ({ x, y, color }: any) => (
  <div style={{ position: "absolute", left: x - 2, top: y - 2, width: 4, height: 4, borderRadius: 2, background: color }} />
);

function Colorbar({ x, y, w, h, stops, horizontal }: any) {
  return (
    <div
      style={{
        position: "absolute",
        left: x,
        top: y,
        width: w,
        height: h,
        boxSizing: "border-box",
        border: `0.5px solid ${FRAME}`,
        background: `linear-gradient(${horizontal ? "to right" : "to top"}, ${stops.join(",")})`,
      }}
    />
  );
}

// scatter panel with a frame, nothing but the plot rectangle
function Frame({ x, y, w, h, xDomain, yDomain, bg = "none", children }: any) {
  const pad = 4;
  return (
    <div style={{ position: "absolute", left: x - pad, top: y - pad }}>
      <ScatterChart width={w + pad * 2} height={h + pad * 2} margin={{ top: pad, right: pad, bottom: pad, left: pad }}>
        <XAxis type="number" dataKey="x" domain={xDomain} hide allowDataOverflow />
        <YAxis type="number" dataKey="y" domain={yDomain} hide reversed allowDataOverflow />
        <ReferenceArea x1={xDomain[0]} x2={xDomain[1]} y1={yDomain[0]} y2={yDomain[1]} fill={bg} fillOpacity={1} stroke={FRAME} strokeWidth={1} />
        {children}
      </ScatterChart>
    </div>
  );
}

const UMAP_X = [0, 200];
const UMAP_Y = [0, 148];

// columnShift moves the sender / ligand / receiver columns as the reference stacks them
const sankeyNode = (colors: string[], labelDx: number[], columnShift: number[]) => (props: any) => {
  const { x, width, height, index, payload } = props;
  const depth = payload.depth ?? 0;
  const y = props.y + columnShift[depth];
  return (
    <g>
      <rect x={x} y={y} width={width} height={Math.max(height, 0.7)} fill={colors[index]} stroke="#00000022" strokeWidth={0.5} />
      {payload.name ? (
        <text x={x + width + labelDx[depth]} y={y + height / 2} dy="0.35em" fontSize={8.9} fill={INK}>
          {payload.name}
        </text>
      ) : null}
    </g>
  );
};
const sankeyLink = (columnShift: number[]) => (props: any) => {
  const { sourceX, targetX, sourceY, targetY, sourceControlX, targetControlX, linkWidth, payload } = props;
  const y0 = sourceY + columnShift[payload.source.depth ?? 0];
  const y1 = targetY + columnShift[payload.target.depth ?? 1];
  return (
    <path
      d={`M${sourceX},${y0} C${sourceControlX},${y0} ${targetControlX},${y1} ${targetX},${y1}`}
      fill="none"
      stroke="#aaaaaa"
      strokeOpacity={0.5}
      strokeWidth={linkWidth}
    />
  );
};
const E_SHIFT = [0, 0, 0];
const F_SHIFT = [-11.5, 0, -11];

export default function App() {
  const clusterCells = CLUSTERS.map((_, c) => allCells.filter((d) => d.cluster === c));
  const mdkLevels = MDK_COLORS.map((_, m) => allCells.filter((d) => d.mdk === m));
  const epiCells = epithelial.map(([x, y]) => ({ x, y }));
  const tregCells = tregs.map(([x, y]) => ({ x, y }));

  return (
    <div style={{ position: "absolute", left: 0, top: 0, width: 746, height: 975, overflow: "hidden", background: "#fff", fontFamily: FONT }}>
      {/* a */}
      <Letter x={1} y={15.7}>a</Letter>
      <Txt x={144} y={15}>Cell subtype</Txt>
      <Frame x={47} y={21} w={199} h={148} xDomain={UMAP_X} yDomain={UMAP_Y}>
        <Scatter data={epiCells} fill={TAB[0]} shape={dot(1.4)} isAnimationActive={false} />
        <Scatter data={tregCells} fill={TAB[1]} shape={dot(1.4)} isAnimationActive={false} />
      </Frame>
      <Txt x={142} y={175}>UMAP1</Txt>
      <Txt x={40.7} y={95} rotate>UMAP2</Txt>
      <Swatch x={254} y={91} color={TAB[0]} />
      <Swatch x={254} y={100} color={TAB[1]} />
      <Txt x={258} y={91} anchor="start">Epithelial_tumour</Txt>
      <Txt x={258} y={100} anchor="start">Regulatory T cells</Txt>

      {/* b */}
      <Letter x={356} y={16}>b</Letter>
      <Txt x={465} y={21} size={8.4}>Epithelial carcinoma cells colocalised with Tregs</Txt>
      <Frame x={368.3} y={26.7} w={190.7} h={138.3} xDomain={[-2.78, 50.2]} yDomain={[-2.08, 41.1]} bg="#a9a7a4">
        <ReferenceLine x={-1.9} stroke="#c4c2bf" strokeWidth={3} strokeDasharray="2 3" />
        <ReferenceLine x={49.2} stroke="#c4c2bf" strokeWidth={3} strokeDasharray="2 3" />
        {spotsByLevel.map((pts, level) => (
          <Scatter key={level} data={pts} fill={SPOT_COLORS[level]} shape={dot(1.4)} isAnimationActive={false} />
        ))}
      </Frame>
      <Colorbar x={561} y={26.7} w={5} h={138.3} stops={SPOT_COLORS} />
      {["0.200", "0.175", "0.150", "0.125", "0.100", "0.075", "0.050", "0.025"].map((t, i) => (
        <Txt key={t} x={570} y={28 + i * 17.15} size={7.8} anchor="start">{t}</Txt>
      ))}
      <Txt x={466.7} y={171}>spatial1</Txt>
      <Txt x={362} y={90} rotate>spatial2</Txt>

      {/* c */}
      <Letter x={1} y={208}>c</Letter>
      <Txt x={120.7} y={208} size={9}>MDK expression in colocalisation clusters</Txt>
      <Frame x={26} y={213.5} w={181} h={148.5} xDomain={UMAP_X} yDomain={UMAP_Y}>
        {mdkLevels.map((pts, m) => (
          <Scatter key={m} data={pts} fill={MDK_COLORS[m]} shape={dot(1.3)} isAnimationActive={false} />
        ))}
      </Frame>
      <Colorbar x={209} y={213.5} w={6} h={148} stops={MDK_COLORS} />
      {[6, 5, 4, 3, 2, 1, 0].map((t, i) => (
        <Txt key={t} x={217.5} y={216.7 + i * 24.05} anchor="start">{t}</Txt>
      ))}
      <Txt x={119} y={367.7}>UMAP1</Txt>
      <Txt x={20} y={280.7} rotate>UMAP2</Txt>

      <Txt x={346.7} y={207} size={9}>Colocalisation cluster</Txt>
      <Frame x={247} y={213.5} w={199.5} h={148.5} xDomain={UMAP_X} yDomain={UMAP_Y}>
        {clusterCells.map((pts, c) => (
          <Scatter key={c} data={pts} fill={TAB[c]} shape={dot(1.4)} isAnimationActive={false} />
        ))}
      </Frame>
      {CLUSTERS.map((c, i) => (
        <React.Fragment key={c}>
          <Swatch x={457} y={262.7 + i * 8.2} color={TAB[i]} />
          <Txt x={462.7} y={262.7 + i * 8.2} anchor="start">{c}</Txt>
        </React.Fragment>
      ))}
      <Txt x={347.7} y={367.7}>UMAP1</Txt>
      <Txt x={240.7} y={280} rotate>UMAP2</Txt>

      {/* d */}
      <Letter x={477} y={208}>d</Letter>
      <div style={{ position: "absolute", left: 470, top: 190 }}>
        <ComposedChart layout="vertical" width={276} height={190} margin={{ top: 32, right: 26, bottom: 0, left: 0 }}>
          <XAxis
            type="number"
            domain={[-0.514, 6.46]}
            ticks={[0, 1, 2, 3, 4, 5, 6]}
            interval={0}
            height={18}
            allowDataOverflow
            stroke="#777"
            tick={{ fontSize: 8.8, fill: INK }}
            tickSize={2}
            tickMargin={1}
          />
          <YAxis
            type="number"
            dataKey="y"
            domain={[-0.3, 6.42]}
            reversed
            ticks={[0, 1, 2, 3, 4, 5, 6]}
            interval={0}
            width={33}
            allowDataOverflow
            stroke="#777"
            tick={{ fontSize: 8.8, fill: INK }}
            tickSize={2}
            tickMargin={1}
          />
          {MUTED.map((color, i) => (
            <Area key={i} data={violinRows[i]} type="monotone" dataKey="r" fill={color} fillOpacity={1} stroke="#555" strokeWidth={0.7} dot={false} activeDot={false} isAnimationActive={false} />
          ))}
          <Scatter data={jitterCells} dataKey="x" fill="#222" shape={dot(0.45, 0.75)} isAnimationActive={false} />
          <ReferenceLine segment={[{ x: 0, y: 6.3 }, { x: 3, y: 6.3 }]} stroke="#555" ifOverflow="visible" />
          <ReferenceLine segment={[{ x: 1.42, y: 6.3 }, { x: 1.42, y: 6.42 }]} stroke="#555" ifOverflow="visible" />
          <ReferenceLine segment={[{ x: 1.42, y: 6.42 }, { x: 5.07, y: 6.42 }]} stroke="#555" ifOverflow="visible" />
          <ReferenceLine segment={[{ x: 5.07, y: 6.42 }, { x: 5.07, y: 5.07 }]} stroke="#555" ifOverflow="visible" />
          <ReferenceLine segment={[{ x: 3.97, y: 5.07 }, { x: 5.97, y: 5.07 }]} stroke="#555" ifOverflow="visible" />
        </ComposedChart>
      </div>
      <Txt x={613} y={220.5} size={8} weight={700}>***</Txt>
      <Txt x={490} y={293} rotate>MDK</Txt>
      <Txt x={611} y={377}>Colocalisation cluster</Txt>

      {/* e */}
      <Letter x={1} y={407}>e</Letter>
      <Txt x={162} y={409.7}>Stromal cells</Txt>
      <Txt x={63} y={427.3}>Sender</Txt>
      <Txt x={161} y={427}>Ligand</Txt>
      <Txt x={264} y={427.3}>Receiver</Txt>
      <Txt x={54} y={440}>Epithelial carcinoma cells</Txt>
      <Txt x={55.7} y={450}>colocalised with Tregs</Txt>
      <div style={{ position: "absolute", left: 0, top: 450.7 }}>
        <Sankey
          width={330}
          height={123}
          data={eData}
          nodeWidth={8}
          nodePadding={7.5}
          sort={false}
          margin={{ top: 0, right: 66.7, bottom: 0, left: 56.7 }}
          node={sankeyNode(E_COLORS, [0, 2, 3.7], E_SHIFT)}
          link={sankeyLink(E_SHIFT)}
        />
      </div>

      {/* f */}
      <Letter x={355} y={407}>f</Letter>
      <Txt x={521.7} y={407}>Monocytes</Txt>
      <Txt x={416} y={428}>Sender</Txt>
      <Txt x={517} y={426}>Ligand</Txt>
      <Txt x={617.7} y={428}>Receiver</Txt>
      <Txt x={411} y={447}>Epithelial carcinoma cells</Txt>
      <Txt x={411} y={458}>colocalised with Tregs</Txt>
      <div style={{ position: "absolute", left: 340, top: 444 }}>
        <Sankey
          width={406}
          height={131}
          data={fData}
          nodeWidth={8}
          nodePadding={7.67}
          sort={false}
          margin={{ top: 0, right: 128.3, bottom: 8, left: 71 }}
          node={sankeyNode(F_COLORS, [0, 0.8, 3], F_SHIFT)}
          link={sankeyLink(F_SHIFT)}
        />
      </div>

      {/* g */}
      <Letter x={1} y={594}>g</Letter>
      <Txt x={151.7} y={594}>MDK expression cluster</Txt>
      <Frame x={54.6} y={599} w={199} h={149.3} xDomain={[0, 66.3]} yDomain={[0, 49.8]}>
        <Scatter data={mdkCells.o} fill={TAB[1]} shape={dot(1, 0.75)} isAnimationActive={false} />
        <Scatter data={mdkCells.b} fill={TAB[0]} shape={dot(1, 0.75)} isAnimationActive={false} />
      </Frame>
      <Txt x={155.7} y={755}>UMAP1</Txt>
      <Txt x={48} y={671} rotate>UMAP2</Txt>
      <Swatch x={262} y={670.5} color={TAB[1]} />
      <Swatch x={262} y={679.5} color={TAB[0]} />
      <Txt x={266.7} y={670.5} anchor="start">MDK high</Txt>
      <Txt x={266.7} y={679.5} anchor="start">MDK low</Txt>

      {/* h */}
      <Letter x={1} y={787}>h</Letter>
      <Txt x={185} y={786} size={8.9}>GO Biological Process MDK high expression</Txt>
      <div style={{ position: "absolute", left: 0, top: 790 }}>
        <BarChart layout="vertical" width={320} height={185} data={goRows} margin={{ top: 6.5, right: 7, bottom: 0, left: 0 }} barSize={14.3}>
          <XAxis
            type="number"
            domain={[0, 11.48]}
            ticks={[0, 3, 6, 9]}
            height={22.5}
            allowDataOverflow
            stroke="#777"
            tick={{ fontSize: 8.4, fill: INK }}
            tickSize={2}
            tickMargin={0}
          />
          <YAxis type="category" dataKey="term" width={179} interval={0} stroke="#777" tick={labelTick(GO_TERMS, 8.9)} tickSize={2} tickMargin={4} />
          <Bar dataKey="value" stroke="#8a6a66" strokeWidth={0.8} isAnimationActive={false}>
            {GO_COLORS.map((c, i) => (
              <Cell key={i} fill={c} />
            ))}
          </Bar>
        </BarChart>
      </div>
      <Txt x={249} y={969} size={8.4}>−log10(p−value)</Txt>

      {/* i */}
      <Letter x={358} y={595}>i</Letter>
      <div style={{ position: "absolute", left: 340, top: 615 }}>
        <ScatterChart width={310} height={250} margin={{ top: 10, right: 12.7, bottom: 0, left: 0 }}>
          <XAxis
            type="number"
            dataKey="x"
            domain={[-0.77, 5.79]}
            ticks={[0, 1, 2, 3, 4, 5]}
            interval={0}
            height={57.7}
            allowDataOverflow
            stroke={FRAME}
            tick={geneTick}
            tickSize={3}
          />
          <YAxis
            type="number"
            dataKey="y"
            domain={[-0.985, 10.03]}
            reversed
            ticks={[0, 1, 2, 3, 4, 5, 6, 7, 8, 9]}
            interval={0}
            width={189.3}
            allowDataOverflow
            stroke={FRAME}
            tick={labelTick(CELL_TYPES, 8.95)}
            tickSize={3}
            tickMargin={6}
          />
          <ReferenceArea x1={-0.77} x2={5.79} y1={-0.985} y2={10.03} fill="none" stroke={FRAME} />
          <Scatter
            data={dotCells}
            isAnimationActive={false}
            shape={(p: any) => (p.payload.frac > 0 ? <circle cx={p.cx} cy={p.cy} r={sizeRadius(p.payload.frac)} fill={redsColor(p.payload.mean)} stroke="#99999966" strokeWidth={0.4} /> : <g />)}
          />
        </ScatterChart>
      </div>
      <Txt x={690.7} y={708}>Fraction of cells</Txt>
      <Txt x={690.7} y={719}>in group (%)</Txt>
      <div style={{ position: "absolute", left: 640, top: 725 }}>
        <ScatterChart width={100} height={40} margin={{ top: 0, right: 15, bottom: 0, left: 10 }}>
          <XAxis
            type="number"
            dataKey="x"
            domain={[2.21, 22.52]}
            ticks={SIZE_LEGEND}
            interval={0}
            height={20}
            axisLine={false}
            stroke="#666"
            tick={{ fontSize: 8.8, fill: INK }}
            tickSize={3}
            tickMargin={1}
          />
          <YAxis type="number" dataKey="y" domain={[-1, 1]} hide />
          <Scatter
            data={SIZE_LEGEND.map((x) => ({ x, y: 0 }))}
            isAnimationActive={false}
            shape={(p: any) => <circle cx={p.cx} cy={p.cy} r={sizeRadius(p.payload.x)} fill="#999" />}
          />
        </ScatterChart>
      </div>
      <Txt x={690.7} y={777}>Mean in expression</Txt>
      <Txt x={690.7} y={788}>in group</Txt>
      <Colorbar x={654.3} y={798.3} w={73.4} h={9.7} stops={REDS} horizontal />
      <Txt x={656} y={817}>0.00</Txt>
      <Txt x={685.7} y={817}>0.25</Txt>
      <Txt x={715.7} y={817}>0.50</Txt>
    </div>
  );
}
